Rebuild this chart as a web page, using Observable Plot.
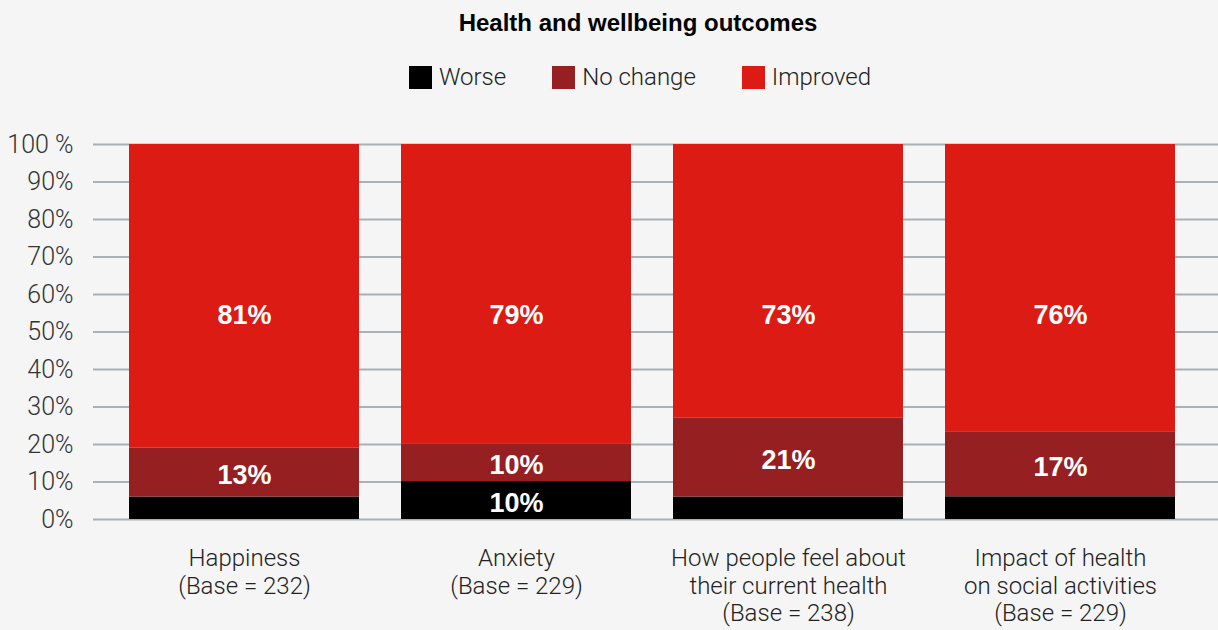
<!DOCTYPE html>
<html><head><meta charset="utf-8">
<script src="https://cdn.jsdelivr.net/npm/d3@7"></script>
<script src="https://cdn.jsdelivr.net/npm/@observablehq/plot@0.6"></script>
<style>
body{margin:0;background:#f5f5f5;width:1218px;height:630px;overflow:hidden;position:relative;font-family:Roboto,sans-serif;}
#title{position:absolute;top:9px;left:0;width:1276px;text-align:center;font-family:"Liberation Sans",Arial,sans-serif;font-weight:bold;font-size:24px;color:#000;}
#legend{position:absolute;top:63px;left:0;width:1280px;display:flex;justify-content:center;gap:46px;font-family:Roboto,sans-serif;font-weight:300;font-size:24px;color:#222;}
#legend .item{display:flex;align-items:center;gap:7px;}
#legend .sw{width:23px;height:23px;display:inline-block;}
#chart{position:absolute;top:100px;left:0;}
</style></head>
<body>
<div id="title">Health and wellbeing outcomes</div>
<div id="legend"></div>
<div id="chart"></div>
<script>
const categories = ["Happiness", "Anxiety", "How people feel about\ntheir current health", "Impact of health\non social activities"];
const bases = [232, 229, 238, 229];
const seriesNames = ["Worse", "No change", "Improved"];
const seriesColors = ["#000000", "#961f22", "#db1b14"];
const worse = [6, 10, 6, 6];
const noChange = [13, 10, 21, 17];
const improved = [81, 79, 73, 76];
const yTicks = [0, 10, 20, 30, 40, 50, 60, 70, 80, 90, 100];

const seriesValues = [worse, noChange, improved];
const rows = [];
categories.forEach((c, i) => {
  const total = worse[i] + noChange[i] + improved[i];
  seriesNames.forEach((s, j) => {
    const v = seriesValues[j][i];
    rows.push({cat: c, series: s, value: v, pct: v / total * 100});
  });
});
const baseOf = new Map(categories.map((c, i) => [c, bases[i]]));

// legend
const lg = document.getElementById("legend");
seriesNames.forEach((s, j) => {
  const it = document.createElement("div"); it.className = "item";
  const sw = document.createElement("span"); sw.className = "sw"; sw.style.background = seriesColors[j];
  const tx = document.createElement("span"); tx.textContent = s;
  it.append(sw, tx); lg.append(it);
});

const labelFont = {fill: "white", fontWeight: "bold", fontSize: 27, fontFamily: "Liberation Sans, Arial, sans-serif"};

const chart = Plot.plot({
  width: 1218,
  height: 530,
  marginLeft: 93,
  marginRight: 0,
  marginTop: 44,
  marginBottom: 111,
  style: {background: "transparent", fontFamily: "Roboto, sans-serif"},
  x: {domain: categories, range: [93, 1211], paddingInner: 0.154, paddingOuter: 0.125},
  y: {domain: [0, 100]},
  color: {domain: seriesNames, range: seriesColors},
  marks: [
    Plot.ruleY(yTicks, {stroke: "#a9b0b6", strokeWidth: 2}),
    Plot.barY(rows, Plot.stackY({x: "cat", y: "pct", fill: "series", order: seriesNames})),
    Plot.text(rows, Plot.stackY({
      x: "cat", y: "pct", z: "series", order: seriesNames,
      text: d => (d.series !== "Improved" && d.value >= 10) ? d.value + "%" : "",
      ...labelFont, dy: 3
    })),
    Plot.text(rows.filter(d => d.series === "Improved"), {
      x: "cat", frameAnchor: "middle", text: d => d.value + "%",
      ...labelFont, dy: -17
    }),
    Plot.axisY({ticks: yTicks, tickSize: 0, tickPadding: 20, label: null,
      tickFormat: d => d === 100 ? "100 %" : d + "%", fontSize: 25, fontWeight: 300, fill: "#333"}),
    Plot.axisX({tickSize: 0, tickPadding: 27, label: null, lineHeight: 1.15,
      tickFormat: c => c + "\n(Base = " + baseOf.get(c) + ")", fontSize: 24, fontWeight: 300, fill: "#222"})
  ]
});
document.getElementById("chart").append(chart);
</script>
</body></html>
